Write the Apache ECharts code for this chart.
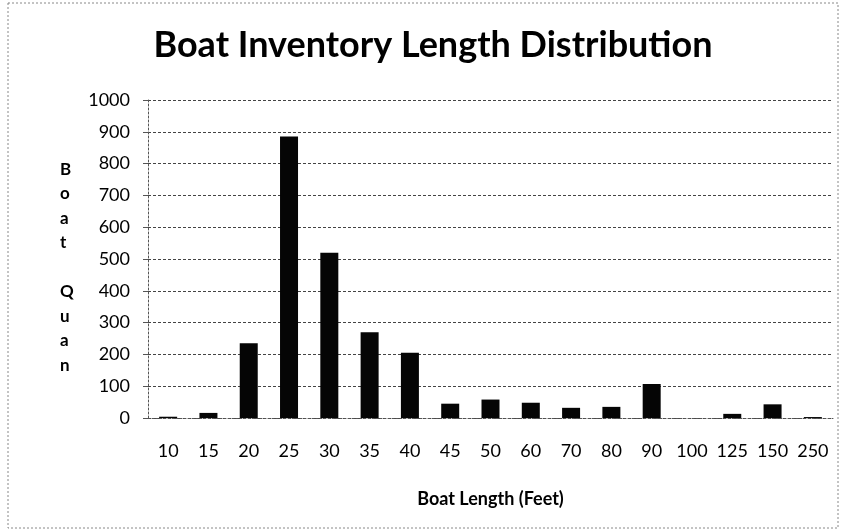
<!DOCTYPE html>
<html>
<head>
<meta charset="utf-8">
<script src="https://cdn.jsdelivr.net/npm/echarts@6/dist/echarts.min.js"></script>
<style>
  html, body { margin: 0; padding: 0; background: #fff; }
  #chart { width: 842px; height: 531px; }
</style>
</head>
<body>
<div id="chart"></div>
<script>
const lengths = ['10', '15', '20', '25', '30', '35', '40', '45', '50', '60', '70', '80', '90', '100', '125', '150', '250']
const boatCounts = [4, 16, 235, 885, 520, 270, 205, 45, 58, 48, 32, 35, 107, 0, 13, 43, 3]
const yLetters = ['B', 'o', 'a', 't', '', 'Q', 'u', 'a', 'n']

const chart = echarts.init(document.getElementById('chart'), null, { renderer: 'canvas' })

const font = 'Lato, "Open Sans", sans-serif'

chart.setOption({
  animation: false,
  title: {
    text: 'Boat Inventory Length Distribution',
    left: 428,
    top: 22,
    textAlign: 'center',
    textStyle: { fontFamily: font, fontWeight: 'bold', fontSize: 36, color: '#000' }
  },
  graphic: [
    {
      type: 'rect',
      shape: { x: 8, y: 3, width: 830, height: 525 },
      style: { fill: 'none', stroke: '#888', lineWidth: 1, lineDash: [2, 2] }
    },
    {
      type: 'text',
      left: 60,
      top: 157,
      style: {
        text: yLetters.join('\n'),
        fontFamily: font,
        fontWeight: 'bold',
        fontSize: 17,
        lineHeight: 24.5,
        fill: '#000',
        align: 'center'
      }
    }
  ],
  grid: { left: 148, right: 9, top: 100, bottom: 113 },
  xAxis: {
    type: 'category',
    data: lengths,
    name: 'Boat Length (Feet)',
    nameLocation: 'middle',
    nameGap: 72,
    nameTextStyle: { fontFamily: font, fontWeight: 'bold', fontSize: 18, color: '#000' },
    axisLine: { lineStyle: { color: '#555', type: [2, 2] } },
    axisTick: { show: false },
    axisLabel: { interval: 0, hideOverlap: false, fontFamily: font, fontSize: 18, color: '#000', margin: 24 }
  },
  yAxis: {
    type: 'value',
    min: 0,
    max: 1000,
    interval: 100,
    axisLine: { show: true, lineStyle: { color: '#555', type: [2, 2] } },
    axisTick: { show: true, length: 5, lineStyle: { color: '#555' } },
    axisLabel: { fontFamily: font, fontSize: 18, color: '#000', margin: 18, formatter: v => String(v) },
    splitLine: { lineStyle: { color: '#444', type: [3, 2] } }
  },
  series: [
    {
      type: 'bar',
      data: boatCounts,
      barWidth: 18,
      itemStyle: { color: '#050505' }
    }
  ]
})
</script>
</body>
</html>
